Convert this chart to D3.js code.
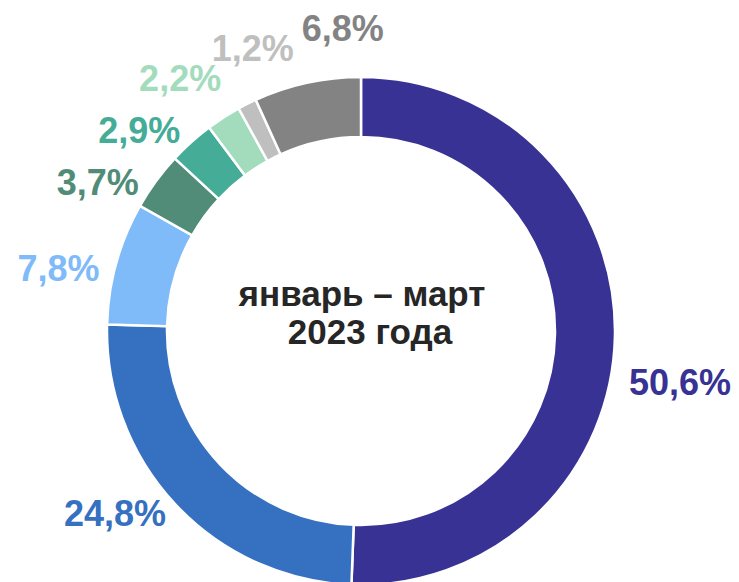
<!DOCTYPE html>
<html lang="ru">
<head>
<meta charset="utf-8">
<script src="https://cdn.jsdelivr.net/npm/d3@7"></script>
<style>
  body { margin: 0; background: #fff; }
  svg text { font-family: "Liberation Sans", Arial, sans-serif; font-weight: bold; }
</style>
</head>
<body>
<div id="chart"></div>
<script>
  // shares, % (clockwise from 12 o'clock)
  const labels = ["50,6%", "24,8%", "7,8%", "3,7%", "2,9%", "2,2%", "1,2%", "6,8%"];
  const values = [50.6, 24.8, 7.8, 3.7, 2.9, 2.2, 1.2, 6.8];
  const colors = ["#373294", "#3670c0", "#7fbaf9", "#518c78", "#45ac98", "#a3dcbd", "#bfbfbf", "#838383"];
  const centerLines = ["январь – март", "2023 года"];

  const width = 739, height = 582;
  const cx = 361, cy = 331;
  const outer = 254, inner = 194;

  // label nudges (deg, radius) to follow the hand-placed labels of the original
  const labelShift = [[8, 323], [6.7, 306], [-3.8, 309], [-6.8, 302], [-5.9, 299], [-2.8, 311], [5.7, 303], [8.8, 303]];

  const svg = d3.select("#chart").append("svg")
    .attr("width", width)
    .attr("height", height);

  const g = svg.append("g").attr("transform", "translate(" + cx + "," + cy + ")");

  const pie = d3.pie().sort(null).value(d => d);
  const arcs = pie(values);
  const arc = d3.arc().innerRadius(inner).outerRadius(outer);

  g.selectAll("path.slice")
    .data(arcs)
    .enter()
    .append("path")
    .attr("class", "slice")
    .attr("d", arc)
    .attr("fill", (d, i) => colors[i])
    .attr("stroke", "#fff")
    .attr("stroke-width", 2.5);

  function labelAngle(d, i) {
    return (d.startAngle + d.endAngle) / 2 + labelShift[i][0] * Math.PI / 180;
  }

  g.selectAll("text.lbl")
    .data(arcs)
    .enter()
    .append("text")
    .attr("class", "lbl")
    .attr("x", (d, i) => Math.sin(labelAngle(d, i)) * labelShift[i][1])
    .attr("y", (d, i) => -Math.cos(labelAngle(d, i)) * labelShift[i][1])
    .attr("dy", "0.35em")
    .attr("text-anchor", "middle")
    .attr("font-size", 36)
    .attr("fill", (d, i) => colors[i])
    .text((d, i) => labels[i]);

  svg.append("text")
    .attr("x", 362).attr("y", 306)
    .attr("text-anchor", "middle")
    .attr("font-size", 35)
    .attr("fill", "#262626")
    .text(centerLines[0]);

  svg.append("text")
    .attr("x", 370).attr("y", 344)
    .attr("text-anchor", "middle")
    .attr("font-size", 35)
    .attr("fill", "#262626")
    .text(centerLines[1]);
</script>
</body>
</html>
